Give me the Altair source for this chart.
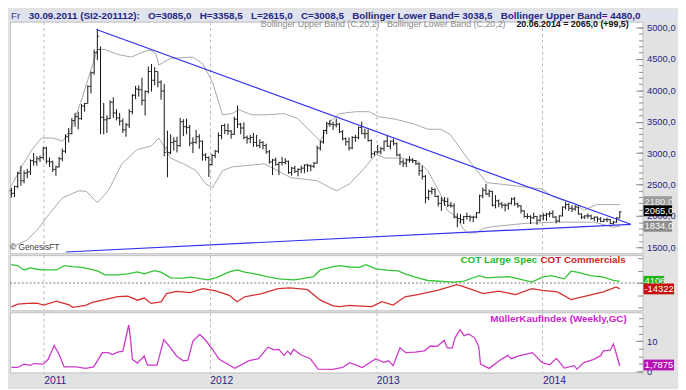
import altair as alt
import pandas as pd

FONT = "Liberation Sans"
NAVY = "#26267f"
GRID = "#b9b9b9"
BG = "#e2e2e2"

# ---------------- weekly OHLC bars (SI2, cents), Fridays from 22.10.2010 ----------------
first_bar = "2010-10-22"
opens = [
    2400, 2360, 2470, 2680, 2560, 2680, 2700, 2880, 2860, 2910, 2930,
    3080, 2870, 2860, 2740, 2780, 2910, 3030, 3260, 3310, 3520, 3580, 3550, 3750, 3790, 4060, 4280, 4600, 4650, 3570, 3530,
    3550, 3810, 3640, 3560, 3510, 3370, 3450, 3660, 3920, 4020, 4010, 3840, 3980, 4300, 4160, 4300, 4130, 3990, 3085, 3008,
    3170, 3190, 3120, 3500, 3420, 3410, 3160, 3170, 3260, 3190, 2970, 2930,
    2820, 2960, 3030, 3280, 3440, 3360, 3350, 3300, 3540, 3460, 3400, 3250, 3230, 3250, 3170, 3120, 3170, 3120, 3020, 2860,
    2890, 2820, 2850, 2850, 2870, 2690, 2760, 2710, 2740, 2760, 2810, 2800, 2790, 2840, 3080, 3180, 3360, 3470, 3460, 3450,
    3460, 3340, 3230, 3180, 3080, 3250, 3250, 3410, 3310, 3310, 3200, 2990,
    3020, 3020, 3070, 3190, 3110, 3190, 3150, 2970, 2860, 2840, 2890, 2890, 2880, 2830, 2720, 2630, 2290, 2390, 2420, 2310,
    2200, 2250, 2230, 2170, 2160, 1980, 1960, 1940, 1990, 1990, 1980, 1980, 2050, 2320, 2410, 2350, 2390, 2170, 2240, 2190,
    2170, 2170, 2200, 2270, 2190, 2160, 2080, 1990, 1990, 1970, 1990, 1930,
    2000, 2010, 2030, 2040, 1980, 1920, 2000, 2140, 2180, 2120, 2110, 2140, 2030, 1980, 2000, 2000, 1960, 1980, 1950, 1910,
    1940, 1940, 1880, 1900, 1965.5,
]
highs = [
    2450, 2480, 2700, 2800, 2720, 2750, 2900, 3000, 2950, 2960, 3100,
    3100, 2930, 2880, 2800, 2940, 3070, 3300, 3400, 3560, 3640, 3660, 3780, 3800, 4080, 4300, 4650, 4980, 4700, 3800, 3600,
    3840, 3890, 3700, 3640, 3550, 3480, 3700, 3940, 4070, 4080, 4200, 4000, 4380, 4420, 4370, 4300, 4160, 4100, 3358.5, 3300,
    3250, 3260, 3560, 3540, 3550, 3450, 3250, 3370, 3300, 3200, 3000, 2950,
    2990, 3050, 3330, 3450, 3470, 3470, 3370, 3580, 3760, 3480, 3490, 3280, 3290, 3320, 3290, 3220, 3190, 3150, 3050, 2910,
    2930, 2860, 2940, 2920, 2880, 2780, 2800, 2760, 2800, 2820, 2830, 2820, 2860, 3120, 3200, 3370, 3500, 3530, 3500, 3550,
    3480, 3370, 3250, 3250, 3270, 3290, 3420, 3500, 3390, 3380, 3220, 3030,
    3130, 3100, 3200, 3280, 3200, 3230, 3170, 2990, 2900, 2910, 2950, 2920, 2890, 2850, 2800, 2650, 2420, 2460, 2440, 2330,
    2300, 2300, 2290, 2220, 2200, 2040, 2030, 2000, 2050, 2010, 2000, 2060, 2340, 2450, 2510, 2420, 2400, 2330, 2260, 2220,
    2200, 2210, 2290, 2300, 2210, 2170, 2090, 2040, 2010, 2050, 2000, 2020,
    2040, 2050, 2070, 2090, 2000, 2010, 2150, 2220, 2200, 2170, 2170, 2150, 2040, 2010, 2040, 2020, 1990, 1990, 1980, 1960,
    1970, 1950, 1920, 1980, 2075,
]
lows = [
    2290, 2300, 2440, 2480, 2520, 2600, 2650, 2800, 2800, 2860, 2900,
    2830, 2780, 2700, 2640, 2770, 2870, 3000, 3170, 3300, 3420, 3380, 3530, 3660, 3790, 3950, 4250, 4480, 3300, 3300, 3320,
    3540, 3560, 3520, 3440, 3320, 3260, 3400, 3620, 3860, 3900, 3760, 3600, 3950, 3980, 4080, 4050, 3850, 2950, 2615, 2980,
    3040, 3010, 3100, 3270, 3300, 3110, 3000, 3150, 3070, 2880, 2880, 2620,
    2800, 2920, 3000, 3220, 3300, 3290, 3230, 3290, 3400, 3300, 3220, 3150, 3160, 3100, 3100, 3080, 3060, 2990, 2830, 2650,
    2800, 2650, 2800, 2820, 2670, 2640, 2680, 2630, 2680, 2680, 2700, 2710, 2760, 2830, 3040, 3150, 3300, 3420, 3370, 3410,
    3320, 3200, 3120, 3040, 3060, 3180, 3220, 3300, 3230, 3180, 2920, 2960,
    2990, 2980, 3030, 3100, 3060, 3120, 2950, 2810, 2780, 2780, 2850, 2840, 2810, 2640, 2580, 2200, 2250, 2340, 2300, 2150,
    2080, 2160, 2140, 2130, 1960, 1820, 1880, 1870, 1940, 1910, 1900, 1960, 2040, 2280, 2330, 2300, 2150, 2120, 2140, 2120,
    2070, 2100, 2180, 2160, 2130, 2040, 1970, 1950, 1870, 1950, 1860, 1910,
    1930, 1920, 1980, 1970, 1880, 1900, 1990, 2100, 2080, 2060, 2080, 2020, 1950, 1950, 1960, 1940, 1920, 1900, 1900, 1900,
    1900, 1870, 1860, 1890, 1960,
]
closes = [
    2360, 2470, 2680, 2560, 2680, 2700, 2880, 2860, 2910, 2930, 3080,
    2870, 2860, 2740, 2780, 2910, 3030, 3260, 3310, 3520, 3580, 3550, 3750, 3790, 4060, 4280, 4600, 4860, 3570, 3530, 3550,
    3810, 3640, 3560, 3510, 3370, 3450, 3660, 3920, 4020, 4010, 3840, 3980, 4300, 4160, 4300, 4130, 3990, 3010, 3008.5, 3170,
    3190, 3120, 3500, 3420, 3410, 3160, 3170, 3260, 3190, 2970, 2930, 2820,
    2960, 3030, 3280, 3440, 3360, 3350, 3300, 3540, 3460, 3400, 3250, 3230, 3250, 3170, 3120, 3170, 3120, 3020, 2860, 2890,
    2820, 2850, 2850, 2870, 2690, 2760, 2710, 2740, 2760, 2810, 2800, 2790, 2840, 3080, 3180, 3360, 3470, 3460, 3450, 3460,
    3340, 3230, 3180, 3080, 3250, 3250, 3410, 3310, 3310, 3200, 2990, 3020,
    3020, 3070, 3190, 3110, 3190, 3150, 2970, 2860, 2840, 2890, 2890, 2880, 2830, 2720, 2630, 2290, 2390, 2420, 2310, 2200,
    2250, 2230, 2170, 2160, 1980, 1960, 1940, 1990, 1990, 1980, 1980, 2050, 2320, 2410, 2350, 2390, 2170, 2240, 2190, 2170,
    2170, 2200, 2270, 2190, 2160, 2080, 1990, 1990, 1970, 1990, 1930, 2000,
    2010, 2030, 2040, 1980, 1920, 2000, 2140, 2180, 2120, 2110, 2140, 2030, 1980, 2000, 2000, 1960, 1980, 1950, 1910, 1940,
    1940, 1880, 1900, 1965.5, 2065,
]

# ---------------- Bollinger bands (C,20,2) ----------------
upper_dates = ["2010-10-22", "2010-11-15", "2010-12-06", "2010-12-27", "2011-01-22", "2011-02-12", "2011-03-02",
               "2011-03-23", "2011-04-14", "2011-04-29", "2011-05-16", "2011-06-13", "2011-07-13", "2011-08-10",
               "2011-08-25", "2011-09-05", "2011-09-11", "2011-09-22", "2011-10-07", "2011-11-25", "2011-12-17",
               "2012-01-07", "2012-01-29", "2012-02-19", "2012-03-05", "2012-04-02", "2012-05-05", "2012-06-12",
               "2012-07-12", "2012-08-09", "2012-08-31", "2012-09-21", "2012-10-13", "2012-11-18", "2012-12-16",
               "2013-01-06", "2013-02-12", "2013-03-27", "2013-04-24", "2013-05-22", "2013-06-12", "2013-07-04",
               "2013-07-25", "2013-08-16", "2013-08-31", "2013-09-27", "2013-11-24", "2013-12-31", "2014-01-21",
               "2014-02-18", "2014-03-12", "2014-04-02", "2014-04-30", "2014-06-20"]
upper_vals = [2480, 2800, 3050, 3240, 3240, 3190, 3380, 3800, 4300, 4650, 4650, 4570, 4530, 4620, 4640, 4580, 4400,
              4450, 4510, 4530, 4420, 4130, 3610, 3630, 3690, 3610, 3610, 3630, 3550, 3350, 3190, 3500, 3630, 3660,
              3660, 3580, 3540, 3460, 3380, 3380, 3300, 3080, 2870, 2670, 2530, 2510, 2460, 2430, 2320, 2240, 2200,
              2090, 2180, 2180]
lower_dates = ["2010-10-22", "2010-11-25", "2010-12-23", "2011-01-14", "2011-02-12", "2011-03-19", "2011-04-05",
               "2011-04-29", "2011-05-23", "2011-06-22", "2011-07-26", "2011-08-25", "2011-09-11", "2011-09-22",
               "2011-10-07", "2011-11-04", "2011-12-02", "2011-12-23", "2012-01-07", "2012-01-29", "2012-02-19",
               "2012-04-30", "2012-06-27", "2012-08-24", "2012-09-21", "2012-10-06", "2012-11-03", "2012-12-01",
               "2012-12-31", "2013-01-21", "2013-02-25", "2013-04-02", "2013-04-24", "2013-05-22", "2013-06-06",
               "2013-06-27", "2013-07-08", "2013-07-19", "2013-08-09", "2013-08-24", "2013-09-15", "2013-11-24",
               "2014-01-28", "2014-04-24", "2014-06-06", "2014-06-20"]
lower_vals = [1500, 1610, 1820, 2040, 2290, 2400, 2390, 2210, 2400, 2830, 3060, 3110, 3240, 3110, 2920, 2830, 2720,
              2510, 2450, 2720, 2780, 2830, 2610, 2560, 2450, 2400, 2510, 2720, 2980, 2920, 2920, 2870, 2720, 2350,
              2090, 1980, 1830, 1730, 1730, 1800, 1830, 1880, 1900, 1900, 1820, 1834]

# ---------------- triangle trend lines ----------------
trend_names = ["upper", "upper", "lower", "lower"]
trend_dates = ["2011-04-27", "2014-07-14", "2011-02-19", "2014-07-14"]
trend_vals = [4969, 1866, 1425, 1866]

# ---------------- COT ----------------
spec_dates = ["2010-10-22", "2010-11-05", "2010-11-19", "2010-12-03", "2010-12-17", "2011-01-01", "2011-01-29",
              "2011-02-15", "2011-03-06", "2011-03-27", "2011-04-10", "2011-04-29", "2011-05-16", "2011-06-13",
              "2011-07-05", "2011-07-26", "2011-08-10", "2011-09-01", "2011-09-16", "2011-10-07", "2011-11-04",
              "2011-11-19", "2011-12-02", "2011-12-28", "2012-01-14", "2012-02-13", "2012-03-01", "2012-03-18",
              "2012-04-09", "2012-05-09", "2012-06-01", "2012-07-04", "2012-07-19", "2012-08-16", "2012-08-31",
              "2012-09-28", "2012-10-12", "2012-11-03", "2012-11-25", "2012-12-09", "2012-12-31", "2013-01-28",
              "2013-02-18", "2013-03-05", "2013-03-27", "2013-04-24", "2013-06-21", "2013-07-10", "2013-08-15",
              "2013-08-31", "2013-10-19", "2013-11-10", "2013-12-09", "2014-01-01", "2014-01-21", "2014-02-18",
              "2014-03-05", "2014-03-18", "2014-04-17", "2014-05-15", "2014-06-06", "2014-06-20"]
spec_vals = [44600, 42700, 31900, 36700, 33600, 31900, 31900, 42200, 39800, 38400, 34300, 29500, 19900, 19900,
             22300, 27100, 22300, 30200, 26400, 12700, 12000, 14400, 12700, 7900, 12700, 27100, 31900, 26400, 22300,
             15100, 10300, 7900, 10300, 15800, 31900, 39800, 42200, 39100, 38400, 44600, 34300, 30700, 29500, 22300,
             14400, 6200, 2400, 3800, 18200, 12700, 15800, 10300, 2400, 14400, 18200, 10300, 28800, 26400, 18200,
             14400, 6700, 4106]
comm_dates = ["2010-10-22", "2010-11-05", "2010-11-26", "2010-12-17", "2011-01-01", "2011-01-29", "2011-02-26",
              "2011-03-06", "2011-04-03", "2011-04-18", "2011-05-10", "2011-06-13", "2011-07-05", "2011-07-26",
              "2011-08-10", "2011-08-25", "2011-09-16", "2011-09-28", "2011-10-20", "2011-11-19", "2011-12-17",
              "2012-01-14", "2012-02-13", "2012-03-01", "2012-03-18", "2012-04-24", "2012-05-30", "2012-06-25",
              "2012-07-19", "2012-08-03", "2012-08-31", "2012-09-28", "2012-10-12", "2012-11-03", "2012-11-18",
              "2012-12-22", "2013-01-13", "2013-02-07", "2013-03-05", "2013-04-02", "2013-05-15", "2013-06-27",
              "2013-07-10", "2013-08-24", "2013-09-27", "2013-11-03", "2013-12-09", "2014-01-01", "2014-02-03",
              "2014-03-05", "2014-03-30", "2014-05-15", "2014-06-12", "2014-06-20"]
comm_vals = [-58100, -51400, -49700, -49000, -53800, -44200, -53300, -59300, -54500, -47300, -41800, -32900,
             -32200, -41800, -36500, -49700, -46100, -25700, -20200, -23300, -13700, -19200, -29800, -45600,
             -33600, -25700, -13700, -12000, -14400, -16100, -41800, -55700, -57600, -54500, -55700, -57600,
             -45600, -53800, -33600, -28100, -17800, -4100, -8200, -25700, -19700, -28100, -13700, -17800,
             -21600, -40100, -33600, -21600, -9600, -14322]

# ---------------- MuellerKaufIndex (weekly, GC) ----------------
mki_dates = ["2010-10-22", "2010-11-05", "2010-11-19", "2010-12-03", "2010-12-10", "2010-12-31", "2011-01-11",
             "2011-01-24", "2011-02-04", "2011-02-15", "2011-03-13", "2011-04-03", "2011-04-21", "2011-05-10",
             "2011-05-23", "2011-06-01", "2011-06-13", "2011-06-24", "2011-07-03", "2011-07-07", "2011-07-11",
             "2011-07-15", "2011-07-26", "2011-08-10", "2011-08-17", "2011-09-07", "2011-09-22", "2011-10-07",
             "2011-10-20", "2011-11-04", "2011-11-14", "2011-11-25", "2011-12-10", "2011-12-23", "2012-01-07",
             "2012-01-22", "2012-02-25", "2012-03-26", "2012-04-17", "2012-05-08", "2012-05-21", "2012-06-01",
             "2012-06-12", "2012-06-20", "2012-06-27", "2012-07-03", "2012-07-18", "2012-08-09", "2012-08-26",
             "2012-09-27", "2012-10-19", "2012-11-03", "2012-11-18", "2012-12-01", "2012-12-31", "2013-01-17",
             "2013-01-28", "2013-02-07", "2013-02-22", "2013-03-07", "2013-03-27", "2013-04-17", "2013-04-30",
             "2013-05-15", "2013-05-30", "2013-06-06", "2013-06-17", "2013-06-23", "2013-07-04", "2013-07-13",
             "2013-07-23", "2013-08-05", "2013-08-14", "2013-08-18", "2013-09-06", "2013-09-28", "2013-10-17",
             "2013-10-24", "2013-11-10", "2013-12-10", "2013-12-31", "2014-01-17", "2014-02-01", "2014-02-18",
             "2014-03-12", "2014-03-18", "2014-04-02", "2014-04-24", "2014-05-09", "2014-05-15", "2014-05-30",
             "2014-06-06", "2014-06-13", "2014-06-20"]
mki_vals = [1.3, 1.3, 2.4, 2.0, 2.6, 2.4, 4.0, 8.6, 5.6, 1.5,
            1.5, 1.0, 1.5, 6.2, 6.2, 5.6, 6.4, 6.7, 12.7, 15.4,
            10.5, 4.0, 2.7, 5.1, 2.1, 2.1, 10.5, 7.8, 5.1, 3.5,
            3.7, 10.0, 12.2, 10.3, 7.3, 4.0, 1.0, 3.5, 4.2, 8.0,
            7.1, 7.3, 5.3, 6.7, 5.6, 7.3, 5.6, 4.2, 0.75, 0.7,
            1.3, 2.9, 2.1, 1.3, 4.2, 3.0, 3.5, 1.9, 7.8, 6.2,
            6.4, 6.8, 8.4, 8.3, 10.3, 7.8, 7.8, 11.1, 13.8, 11.8,
            12.4, 11.1, 8.2, 2.4, 1.0, 3.5, 5.3, 4.2, 5.1, 6.2,
            3.0, 2.2, 4.3, 1.1, 1.9, 0.75, 2.9, 4.0, 5.2, 6.8,
            7.0, 9.1, 5.5, 1.7875]

# ---------------- axis ticks / labels ----------------
price_ticks = [1500, 2000, 2500, 3000, 3500, 4000, 4500, 5000]
price_minor = [1500 + 100 * i for i in range(36)]
cot_ticks = [-60000, -30000, 0, 30000, 60000]
mki_ticks = [0, 10]
mki_minor = [0, 2.5, 5, 7.5, 10, 12.5, 15, 17.5]
year_ticks = [2011, 2012, 2013, 2014]

GAP = "\u00a0\u00a0 "
header_text = ("30.09.2011 (SI2-201112):" + GAP + "O=3085,0" + GAP + "H=3358,5" + GAP + "L=2615,0" + GAP +
               "C=3008,5" + GAP + "Bollinger Lower Band= 3038,5" + GAP + "Bollinger Upper Band= 4480,0")

# ================= build =================
ohlc = pd.DataFrame({"date": pd.date_range(first_bar, periods=len(closes), freq="7D"),
                     "open": opens, "high": highs, "low": lows, "close": closes})
upper_df = pd.DataFrame({"date": pd.to_datetime(upper_dates), "v": upper_vals})
lower_df = pd.DataFrame({"date": pd.to_datetime(lower_dates), "v": lower_vals})
trend_df = pd.DataFrame({"date": pd.to_datetime(trend_dates), "v": trend_vals, "line": trend_names})
spec_df = pd.DataFrame({"date": pd.to_datetime(spec_dates), "v": spec_vals})
comm_df = pd.DataFrame({"date": pd.to_datetime(comm_dates), "v": comm_vals})
mki_df = pd.DataFrame({"date": pd.to_datetime(mki_dates), "v": mki_vals})


def dt(y, m, d):
    return alt.DateTime(year=y, month=m, date=d)


XS = alt.Scale(domain=[dt(2010, 10, 19), dt(2014, 8, 9)], nice=False)
year_vals = [dt(y, 1, 1) for y in year_ticks]
grid_axis = alt.Axis(values=year_vals, grid=True, gridDash=[3, 3], gridColor=GRID, labels=False,
                     ticks=False, domain=False, title=None, minExtent=0, maxExtent=0)
bottom_axis = alt.Axis(values=year_vals, grid=True, gridDash=[3, 3], gridColor=GRID, ticks=False,
                       domain=False, title=None, format="%Y", labelAlign="left", labelBaseline="top",
                       labelPadding=3, labelColor=NAVY, labelFont=FONT, labelFontSize=10.5, labelFlush=False)


def xenc(axis=grid_axis):
    return alt.X("date:T", scale=XS, axis=axis)


def right_axis(values, size, labels=True, expr=None):
    kw = dict(orient="right", values=values, tickSize=size, offset=-size, tickColor="#8c8c8c",
              domain=False, grid=False, title=None, labels=labels, labelOverlap=False)
    if labels:
        kw.update(labelColor=NAVY, labelFont=FONT, labelFontSize=9.5, labelPadding=4)
    if expr:
        kw["labelExpr"] = expr
    return alt.Axis(**kw)


def label(text, x, y, **kw):
    return alt.Chart(pd.DataFrame({"t": [text]})).mark_text(font=FONT, baseline="middle", **kw).encode(
        x=alt.value(x), y=alt.value(y), text="t:N")


def badge(value, text, fill, tcolor, yscale, half, x0, x1, dy=0):
    d = pd.DataFrame({"v": [value], "lo": [value - half], "hi": [value + half], "t": [text]})
    r = alt.Chart(d).mark_rect(fill=fill, yOffset=dy, y2Offset=dy).encode(
        x=alt.value(x0), x2=alt.value(x1), y=alt.Y("hi:Q", scale=yscale, axis=None), y2="lo:Q")
    t = alt.Chart(d).mark_text(font=FONT, fontSize=9.5, color=tcolor, align="left", baseline="middle",
                               yOffset=dy).encode(
        x=alt.value(x0 + 1), y=alt.Y("v:Q", scale=yscale, axis=None), text="t:N")
    return alt.layer(r, t)


def ghost_axis(yscale, axis):
    return alt.Chart(pd.DataFrame({"v": [0]})).mark_rule(opacity=0).encode(
        y=alt.Y("v:Q", scale=yscale, axis=axis))


W = 642
# ---------- header ----------
header = alt.layer(
    label("Fr", 1, 5.5, align="left", fontSize=10, color="#3a3a90"),
    label(header_text, 19, 5.5, align="left", fontSize=10, fontWeight="bold", color=NAVY),
).properties(width=678, height=11, view=alt.ViewBackground(fill="#dfe3ee", strokeWidth=0))

# ---------- main price panel ----------
PH = 235
PY = alt.Scale(domain=[1405.8, 5094.2], nice=False, zero=False)
bb_up = alt.Chart(upper_df).mark_line(color="#a8a8a8", strokeWidth=1).encode(
    x=xenc(), y=alt.Y("v:Q", scale=PY, axis=right_axis(price_minor, 4, labels=False)))
bb_lo = alt.Chart(lower_df).mark_line(color="#a8a8a8", strokeWidth=1).encode(
    x=xenc(), y=alt.Y("v:Q", scale=PY, axis=None))
hl = alt.Chart(ohlc).mark_rule(color="#111111", strokeWidth=1).encode(
    x=xenc(), y=alt.Y("low:Q", scale=PY,
                      axis=right_axis(price_ticks, 7, expr="replace(format(datum.value, '.1f'), '.', ',')")),
    y2="high:Q")
op = alt.Chart(ohlc).mark_tick(orient="horizontal", size=2, thickness=1, xOffset=-1, color="#111111").encode(
    x=xenc(), y=alt.Y("open:Q", scale=PY, axis=None))
cl = alt.Chart(ohlc).mark_tick(orient="horizontal", size=2, thickness=1, xOffset=1, color="#111111").encode(
    x=xenc(), y=alt.Y("close:Q", scale=PY, axis=None))
trend = alt.Chart(trend_df).mark_line(color="#3232f2", strokeWidth=1.2).encode(
    x=xenc(), y=alt.Y("v:Q", scale=PY, axis=None), detail="line:N")
u_main = 5.5 / (223 / 3500)
main = alt.layer(
    bb_up, bb_lo, hl, op, cl, trend,
    label("Bollinger Upper Band (C,20,2)\u00a0\u00a0 Bollinger Lower Band (C,20,2)", 503, 2.5,
          align="right", fontSize=9, color="#8a8a8a"),
    label("20.06.2014 = 2065,0 (+99,5)", 628, 2.5, align="right", fontSize=9, fontWeight="bold", color="#111111"),
    label("\u00a9 GenesisFT", 0, 229, align="left", fontSize=8.5, color="#404040"),
    badge(2180, "2180,0", "#9a9a9a", "#eeeeee", PY, u_main, 643, 672, dy=-3),
    badge(2065, "2065,0", "#000000", "#ffffff", PY, u_main, 643, 672, dy=-1),
    badge(1834, "1834,0", "#8c8c8c", "#ffffff", PY, u_main, 643, 672),
).resolve_axis(y="independent").properties(width=W, height=PH)

# ---------- COT panel ----------
CY = alt.Scale(domain=[-66480, 67920], nice=False, zero=False)
u_cot = 5.5 * 2400
zero = alt.Chart(pd.DataFrame({"v": [0]})).mark_rule(color="#777777", strokeDash=[2, 2], strokeWidth=1).encode(
    y=alt.Y("v:Q", scale=CY, axis=right_axis(cot_ticks, 5, labels=False)))
spec = alt.Chart(spec_df).mark_line(color="#33c433", strokeWidth=1.3).encode(
    x=xenc(), y=alt.Y("v:Q", scale=CY, axis=None))
comm = alt.Chart(comm_df).mark_line(color="#d43030", strokeWidth=1.3).encode(
    x=xenc(), y=alt.Y("v:Q", scale=CY, axis=None))
cot = alt.layer(
    zero, spec, comm,
    label("COT Large Spec", 535, 5, align="right", fontSize=10, fontWeight="bold", color="#22bb22"),
    label("COT Commercials", 625, 5, align="right", fontSize=10, fontWeight="bold", color="#cc2222"),
    badge(4106, "4106", "#18b418", "#ffffff", CY, u_cot, 643, 664),
    badge(-14322, "-14322", "#c81010", "#ffffff", CY, u_cot, 643, 674),
).resolve_axis(y="independent").properties(width=W, height=56)

# ---------- MKI panel ----------
MY = alt.Scale(domain=[-0.33, 19.54], nice=False, zero=False)
u_mki = 5.5 / 3.07
mline = alt.Chart(mki_df).mark_line(color="#cc3acc", strokeWidth=1.3).encode(
    x=xenc(bottom_axis), y=alt.Y("v:Q", scale=MY, axis=right_axis(mki_ticks, 7)))
mki = alt.layer(
    ghost_axis(MY, right_axis(mki_minor, 4, labels=False)),
    mline,
    label("M\u00fcllerKaufIndex (Weekly,GC)", 626, 7, align="right", fontSize=10, fontWeight="bold",
          color="#cc22cc"),
    badge(1.7875, "1,7875", "#b414b4", "#ffffff", MY, u_mki, 643, 674, dy=-1),
).resolve_axis(y="independent").properties(width=W, height=61)

chart = alt.vconcat(
    header,
    alt.vconcat(main, cot, mki, spacing=2, bounds="flush"),
    spacing=0,
    bounds="flush",
).properties(padding=0).configure(background=BG).configure_view(fill="white", stroke="#c0c0c0", strokeWidth=1)

chart.save("out.html", embed_options={"renderer": "svg", "actions": False})
